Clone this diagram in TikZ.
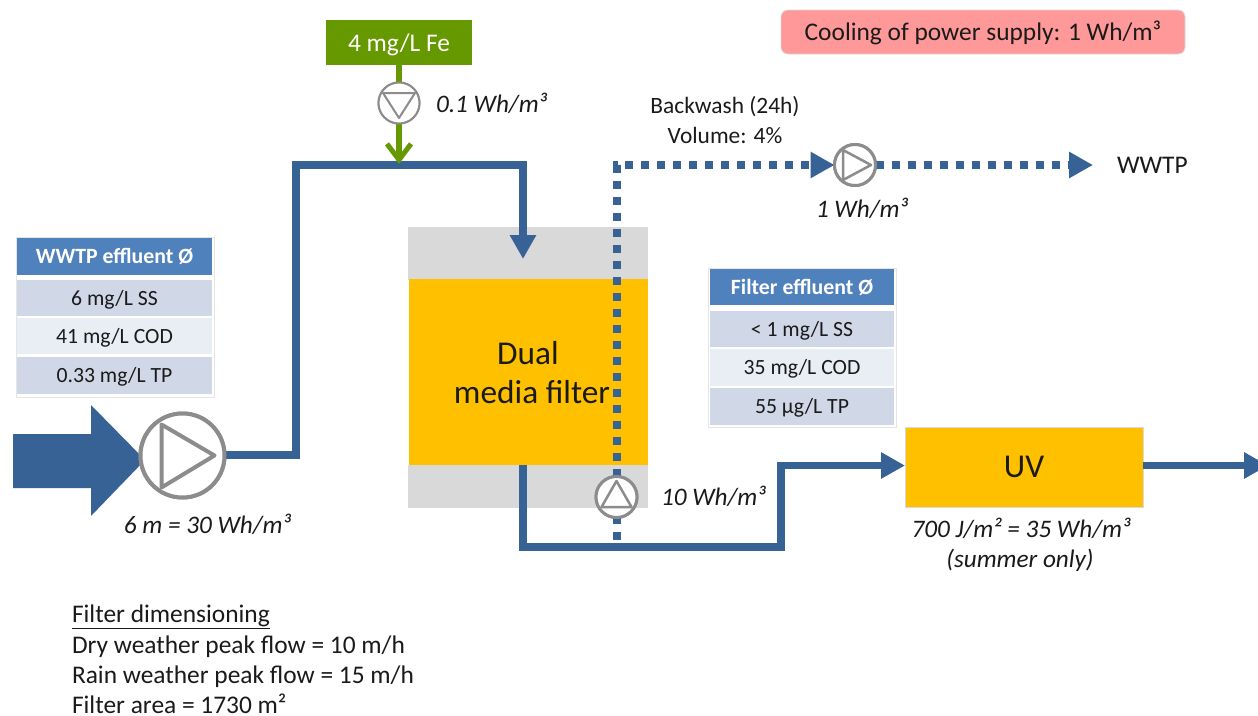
\documentclass[tikz,border=0pt]{standalone}
\usepackage{fontspec}
\setmainfont{Carlito}
\usetikzlibrary{arrows.meta,calc}
\definecolor{pipe}{HTML}{376295}
\definecolor{fegreen}{HTML}{669900}
\definecolor{pumpgray}{HTML}{8C8C8C}
\definecolor{hdr}{HTML}{4F81BD}
\definecolor{rowa}{HTML}{D0D8E8}
\definecolor{rowb}{HTML}{E9EDF4}
\definecolor{amber}{HTML}{FFC000}
\definecolor{media}{HTML}{D9D9D9}
\definecolor{coolred}{HTML}{FF9999}
\definecolor{ink}{HTML}{1A1A1A}
\tikzset{
  x=1pt,y=-1pt,
  every node/.style={inner sep=0pt,outer sep=0pt,text=ink},
  txt/.style={font=\fontsize{25.4}{30}\selectfont,anchor=base},
  txtw/.style={font=\fontsize{25.4}{30}\selectfont,anchor=base west},
  ital/.style={font=\fontsize{25.2}{30}\selectfont\itshape,anchor=base},
  italw/.style={font=\fontsize{25.2}{30}\selectfont\itshape,anchor=base west},
  big/.style={font=\fontsize{33.3}{40}\selectfont,anchor=base},
  cell/.style={font=\fontsize{21.7}{26}\selectfont,text height=17pt,text depth=3pt},
  head/.style={font=\fontsize{21.8}{26}\selectfont\bfseries,text=white,text height=17pt,text depth=3pt},
  pipeline/.style={draw=pipe,line width=7.5pt,line join=miter},
  dotline/.style={draw=pipe,line width=8pt,dash pattern=on 8pt off 8pt},
  bigtip/.style={-{Triangle[width=25pt,length=24pt]}},
  pumpcirc/.style={circle,draw=pumpgray,fill=white,line width=#1},
  pumptri/.style={draw=pumpgray,line join=round,line width=#1},
  greenline/.style={draw=fegreen,line width=5.5pt},
  hairbox/.style={draw=black!15,line width=.8pt},
  tablebg/.style={draw=black!10,line width=.6pt,fill=white},
}
\begin{document}
\begin{tikzpicture}
\useasboundingbox (0,0) rectangle (1258,715);
\clip (0,0) rectangle (1258,715);
\fill[white] (0,0) rectangle (1258,715);

% filter
\node[minimum width=239pt,minimum height=52pt,fill=media,hairbox] (ftop) at (528,253) {};
\node[minimum width=239pt,minimum height=42pt,fill=media,hairbox] (fbot) at (528,486) {};
\node[minimum width=239pt,minimum height=186pt,fill=amber] (fmid) at (528,372) {};
\node[big] (fl1) at (528,364) {Dual};
\node[big] (fl2) at (532,403) {media filter};

% UV
\node[minimum width=238pt,minimum height=80pt,fill=amber,hairbox,font=\fontsize{33.3}{40}\selectfont,text height=22pt,text depth=2pt] (uv) at (1024,467) {UV};

% cooling
\node[minimum width=404pt,minimum height=44pt,fill=coolred,hairbox,rounded corners=7pt,font=\fontsize{25.4}{30}\selectfont,text height=18pt,text depth=2pt] (cool) at (983,32) {Cooling of power supply: 1 Wh/m³};

% iron dosing box
\node[minimum width=146pt,minimum height=45pt,fill=fegreen,font=\fontsize{25.4}{30}\selectfont,text=white,text height=19pt,text depth=2pt] (fe) at (399,42.5) {4 mg/L Fe};

% big inlet arrow
\coordinate (inA) at (13,434);
\coordinate (inB) at (91,434);
\coordinate (inC) at (91,405);
\coordinate (inD) at (145,460);
\coordinate (inE) at (91,516);
\coordinate (inF) at (91,488);
\coordinate (inG) at (13,488);
\fill[pipe] (inA) -- (inB) -- (inC) -- (inD) -- (inE) -- (inF) -- (inG) -- cycle;

% pumps (positions first, so connectors can use them)
\node[pumpcirc=4pt,minimum size=84pt] (pmain) at (182.5,455.5) {};
\node[pumpcirc=2pt,minimum size=41pt] (pfe) at (399,103) {};
\node[pumpcirc=3pt,minimum size=41pt] (pback) at (855,165) {};
\node[pumpcirc=3pt,minimum size=41pt] (pfilt) at (616.5,497) {};

% bends and free ends
\coordinate (b1) at (296,455);
\coordinate (b2) at (296,165);
\coordinate (b3) at (523,165);
\coordinate (tin) at (523,259);
\coordinate (fo) at (523,465);
\coordinate (b4) at (523,547);
\coordinate (b5) at (781,547);
\coordinate (b6) at (781,465.5);
\coordinate (uvo) at (1268,465.5);
\coordinate (dotS) at (616.5,540);
\coordinate (dotC) at (616.5,165);
\coordinate (dotE) at (1093,165);
\coordinate (join) at (399,164);

% connectors
\draw[dotline] (dotS) -- (pfilt.south);
\draw[dotline,bigtip] (pfilt.north) -- (dotC) -- (pback.west);
\draw[dotline,bigtip] (pback.east) -- (dotE);
\draw[pipeline,bigtip] (pmain.east |- b1) -- (b1) -- (b2) -- (b3) -- (tin);
\draw[pipeline,bigtip] (fo) -- (b4) -- (b5) -- (b6) -- (uv.west |- b6);
\draw[pipeline,bigtip] (uv.east |- uvo) -- (uvo);
\draw[greenline] (fe.south) -- (pfe.north);
\draw[greenline,-{Straight Barb[length=16pt,width=24pt,line width=5pt]}] (pfe.south) -- (join);

% pump circles over the line ends, with their triangles
\node[pumpcirc=4pt,minimum size=84pt] (pmainT) at (pmain) {};
\node[pumpcirc=2pt,minimum size=41pt] (pfeT) at (pfe) {};
\node[pumpcirc=3pt,minimum size=41pt] (pbackT) at (pback) {};
\node[pumpcirc=3pt,minimum size=41pt] (pfiltT) at (pfilt) {};
\draw[pumptri=4pt] ($(pmain)+(-21,-31)$) -- ($(pmain)+(-21,32)$) -- ($(pmain)+(32,0)$) -- cycle;
\draw[pumptri=2pt] ($(pfe)+(-16,-10)$) -- ($(pfe)+(16,-10)$) -- ($(pfe)+(0,15)$) -- cycle;
\draw[pumptri=2.5pt] ($(pback)+(-12,-15)$) -- ($(pback)+(-12,15)$) -- ($(pback)+(16,0)$) -- cycle;
\draw[pumptri=2.5pt] ($(pfilt)+(-15,10)$) -- ($(pfilt)+(15,10)$) -- ($(pfilt)+(0,-16)$) -- cycle;

% table 1
\draw[tablebg] (16,237) rectangle (214,397);
\node[minimum width=195pt,minimum height=37pt,fill=hdr,head] (t1h) at (114.5,256.5) {WWTP effluent Ø};
\node[minimum width=195pt,minimum height=36pt,fill=rowa,cell] (t1a) at (114.5,298) {6 mg/L SS};
\node[minimum width=195pt,minimum height=36pt,fill=rowb,cell] (t1b) at (114.5,336) {41 mg/L COD};
\node[minimum width=195pt,minimum height=37pt,fill=rowa,cell] (t1c) at (114.5,375.5) {0.33 mg/L TP};

% table 2
\draw[tablebg] (708,268) rectangle (896,427);
\node[minimum width=184pt,minimum height=36pt,fill=hdr,head] (t2h) at (802,287) {Filter effluent Ø};
\node[minimum width=184pt,minimum height=36pt,fill=rowa,cell] (t2a) at (802,329) {< 1 mg/L SS};
\node[minimum width=184pt,minimum height=37pt,fill=rowb,cell] (t2b) at (802,367.5) {35 mg/L COD};
\node[minimum width=184pt,minimum height=37pt,fill=rowa,cell] (t2c) at (802,406.5) {55 µg/L TP};

% labels
\node[ital] (lmain) at (207.5,533) {6 m = 30 Wh/m³};
\node[italw] (lfe) at (436,112) {0.1 Wh/m³};
\node[txt,font=\fontsize{23.4}{28}\selectfont] (lbw1) at (725,113) {Backwash (24h)};
\node[txt,font=\fontsize{23.4}{28}\selectfont] (lbw2) at (725,143) {Volume: 4\%};
\node[ital] (lback) at (862,217) {1 Wh/m³};
\node[txtw] (lw) at (1117,173) {WWTP};
\node[italw] (lfilt) at (661,505.5) {10 Wh/m³};
\node[ital] (luv1) at (1021,537) {700 J/m² = 35 Wh/m³};
\node[ital] (luv2) at (1020,567) {(summer only)};
\node[txtw] (d1) at (72,622) {\underline{Filter dimensioning}};
\node[txtw] (d2) at (72,653) {Dry weather peak flow = 10 m/h};
\node[txtw] (d3) at (72,683) {Rain weather peak flow = 15 m/h};
\node[txtw] (d4) at (72,713) {Filter area = 1730 m²};
\end{tikzpicture}
\end{document}
